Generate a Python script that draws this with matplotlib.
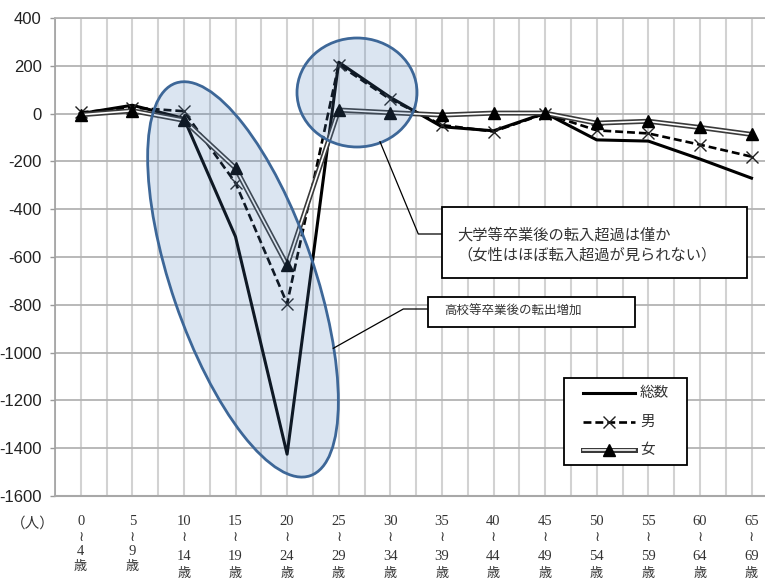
import numpy as np
import matplotlib
matplotlib.use("Agg")
import matplotlib.pyplot as plt
from matplotlib.patches import Ellipse, Rectangle
from matplotlib.lines import Line2D
from matplotlib.transforms import Affine2D

# ---- data -------------------------------------------------------------
age_start = ["0", "5", "10", "15", "20", "25", "30", "35", "40", "45", "50", "55", "60", "65"]
age_end = ["4", "9", "14", "19", "24", "29", "34", "39", "44", "49", "54", "59", "64", "69"]
total = [0, 35, -20, -515, -1425, 215, 68, -55, -72, 2, -110, -115, -190, -270]
male = [5, 25, 10, -290, -795, 205, 60, -48, -75, 0, -70, -83, -130, -180]
female = [-5, 12, -28, -228, -635, 15, 4, -6, 2, 2, -40, -32, -58, -87]
series_labels = ["総数", "男", "女"]
y_ticks = list(range(-1600, 401, 200))
unit_label = "（人）"
note_university = ["大学等卒業後の転入超過は僅か", "（女性はほぼ転入超過が見られない）"]
note_highschool = "高校等卒業後の転出増加"

JP = ["Noto Sans CJK JP", "DejaVu Sans"]
SERIF = ["Liberation Serif", "Noto Sans CJK JP", "DejaVu Sans"]

W, H = 765, 578
fig = plt.figure(figsize=(W / 100, H / 100), dpi=100)
fig.patch.set_facecolor("white")

# plot area in pixels (left, top, bottom, width per category)
left_px, top_px, bottom_px, cat_w = 54.9, 18.0, 496.0, 51.6
n = len(total)
ax = fig.add_axes([left_px / W, 1 - bottom_px / H, n * cat_w / W, (bottom_px - top_px) / H])
x = np.arange(n)
ax.set_xlim(-0.5, n - 0.5)
ax.set_ylim(y_ticks[0], y_ticks[-1])

# grid
ax.set_axisbelow(True)
ax.set_yticks(y_ticks)
ax.set_yticklabels([str(v) for v in y_ticks], fontsize=12, family="Liberation Sans", color="#222222")
ax.set_xticks(np.arange(-0.5, n, 0.5))
ax.set_xticklabels([])
ax.tick_params(axis="x", length=0)
ax.tick_params(axis="y", length=3.6, width=1.0, color="#999999", pad=6)
ax.grid(axis="y", color="#b3b3b3", lw=1.3)
ax.grid(axis="x", color="#d2d2d2", lw=1.5)
ax.spines["right"].set_visible(False)
ax.spines["top"].set_color("#b3b3b3")
ax.spines["top"].set_linewidth(1.3)
ax.spines["left"].set_color("#a0a0a0")
ax.spines["left"].set_linewidth(1.2)
ax.spines["bottom"].set_color("#a8a8a8")
ax.spines["bottom"].set_linewidth(1.5)

# series styles
total_style = dict(color="black", lw=2.2, solid_joinstyle="round")
male_style = dict(color="black", lw=1.9, dashes=(3.0, 1.5), marker="x", ms=8.5, mew=1.0, mec="#222222")
fem_outer_style = dict(color="#3a3a3a", lw=3.6, solid_joinstyle="round")
fem_inner_style = dict(color="white", lw=1.2, solid_joinstyle="round")
fem_marker_style = dict(ls="none", marker="^", ms=8.5, color="black")

ax.plot(x, total, zorder=3, **total_style)
ax.plot(x, male, zorder=4, **male_style)
ax.plot(x, female, zorder=5, **fem_outer_style)
ax.plot(x, female, zorder=6, **fem_inner_style)
ax.plot(x, female, zorder=7, **fem_marker_style)

# category labels, written vertically below the axis
single = [25.7, 40.7, 55.7, 70.7]
double = [25.7, 41.0, 60.7, 77.0]
xt = ax.get_xaxis_transform()
for i, (a, b) in enumerate(zip(age_start, age_end)):
    offs = single if len(a) == 1 else double
    parts = [(a, SERIF, 10.5), ("≀", ["DejaVu Sans"], 10), (b, SERIF, 10.5), ("歳", JP, 9.5)]
    for (txt, fam, fs), dy in zip(parts, offs):
        ax.annotate(txt, xy=(i, 0), xycoords=xt, xytext=(0, -dy), textcoords="offset pixels",
                    ha="center", va="center", fontsize=fs, family=fam, color="#333333",
                    annotation_clip=False)

fig.text(33 / W, 1 - 524 / H, unit_label, ha="center", va="center", fontsize=10.5, family=JP, color="#333333")

# pixel coordinates (origin top-left) -> figure
pix = Affine2D().scale(1 / W, -1 / H).translate(0, 1) + fig.transFigure


def fline(xs, ys, **kw):
    fig.add_artist(Line2D(xs, ys, transform=pix, **kw))


# highlight shapes
edge = "#3d6798"
fill = (0.31, 0.506, 0.741, 0.2)
big = Ellipse((243, 279.4), 143, 415, angle=-18.9, transform=pix, facecolor=fill,
              edgecolor=edge, lw=2.0, zorder=10)
small = Ellipse((357, 92.5), 120, 109, transform=pix, facecolor=fill,
                edgecolor=edge, lw=2.0, zorder=10)
fig.add_artist(big)
fig.add_artist(small)

# callouts
fline([380, 418.3, 441.7], [141.7, 234, 234], color="black", lw=0.9, zorder=11)
fline([333.3, 403.3, 428.3], [348.3, 309, 309], color="black", lw=0.9, zorder=11)
fig.add_artist(Rectangle((441.7, 206.5), 305, 71.5, transform=pix, facecolor="white",
                         edgecolor="black", lw=1.3, zorder=12))
fig.add_artist(Rectangle((428.3, 297), 206.7, 30, transform=pix, facecolor="white",
                         edgecolor="black", lw=1.3, zorder=12))
fig.text(457 / W, 1 - 235 / H, note_university[0], ha="left", va="center", fontsize=11,
         family=JP, color="#333333", zorder=13)
fig.text(457 / W, 1 - 255 / H, note_university[1], ha="left", va="center", fontsize=11,
         family=JP, color="#333333", zorder=13)
fig.text(444 / W, 1 - 311.7 / H, note_highschool, ha="left", va="center", fontsize=9,
         family=JP, color="#333333", zorder=13)

# legend
fig.add_artist(Rectangle((564, 378), 122.7, 87, transform=pix, facecolor="white",
                         edgecolor="black", lw=1.3, zorder=12))
rows = [393, 421.7, 450]
hx = [583, 609, 635]
fline(hx, [rows[0]] * 3, zorder=13, **total_style)
fline(hx, [rows[1]] * 3, zorder=13, markevery=[1], **male_style)
fline(hx, [rows[2]] * 3, zorder=13, **fem_outer_style)
fline(hx, [rows[2]] * 3, zorder=13, **fem_inner_style)
fline(hx[1:2], [rows[2]], zorder=13, **fem_marker_style)
for lab, ry in zip(series_labels, rows):
    fig.text(640 / W, 1 - ry / H, lab, ha="left", va="center", fontsize=10.5, family=JP,
             color="#333333", zorder=13)

fig.savefig("out.png", dpi=100, facecolor="white")
